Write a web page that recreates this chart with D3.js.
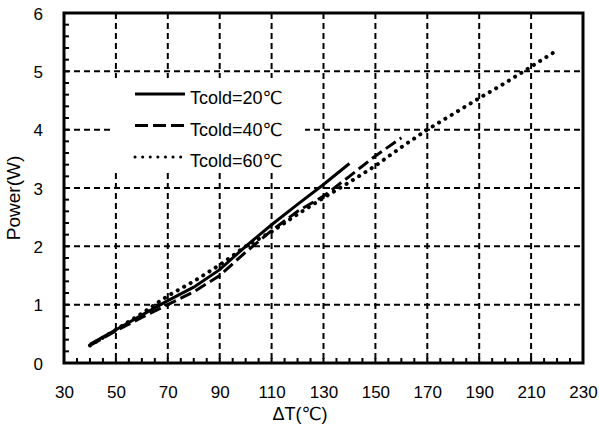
<!DOCTYPE html>
<html>
<head>
<meta charset="utf-8">
<script src="https://cdn.jsdelivr.net/npm/d3@7"></script>
<style>
  body { margin: 0; background: #fff; }
  text { font-family: "Liberation Sans", Arial, sans-serif; fill: #000; }
  .deg { font-family: "DejaVu Sans", sans-serif; }
</style>
</head>
<body>
<div id="chart"></div>
<script>
// tick labels
const xTicks = [30, 50, 70, 90, 110, 130, 150, 170, 190, 210, 230];
const yTicks = [0, 1, 2, 3, 4, 5, 6];

// series
const dT20 = [40, 50, 60, 70, 80, 90, 100, 110, 120, 130, 140];
const power20 = [0.32, 0.57, 0.82, 1.07, 1.3, 1.6, 2.0, 2.37, 2.72, 3.06, 3.42];

const dT40 = [40, 50, 60, 70, 80, 90, 100, 110, 120, 130, 140, 150, 160];
const power40 = [0.3, 0.55, 0.78, 1.0, 1.22, 1.5, 1.9, 2.27, 2.6, 2.86, 3.2, 3.55, 3.86];

const dT60 = [40, 50, 60, 70, 80, 90, 100, 110, 120, 130, 140, 150, 160, 170, 180, 190, 200, 210, 220];
const power60 = [0.3, 0.57, 0.85, 1.15, 1.4, 1.68, 2.0, 2.25, 2.55, 2.83, 3.1, 3.38, 3.7, 4.0, 4.27, 4.54, 4.8, 5.08, 5.36];

const seriesNames = ['Tcold=20', 'Tcold=40', 'Tcold=60'];

const W = 599, H = 425;
const margin = {top: 13, right: 16, bottom: 62, left: 64};
const width = W - margin.left - margin.right;
const height = H - margin.top - margin.bottom;

const svg = d3.select('#chart').append('svg')
    .attr('width', W)
    .attr('height', H);

const chart = svg.append('g')
    .attr('transform', `translate(${margin.left},${margin.top})`);

const xScale = d3.scaleLinear().domain([30, 230]).range([0, width]);
const yScale = d3.scaleLinear().domain([0, 6]).range([height, 0]);

// dashed grid
chart.append('g').selectAll('line')
    .data(xTicks.slice(1, -1))
    .join('line')
    .attr('x1', d => xScale(d)).attr('x2', d => xScale(d))
    .attr('y1', 0).attr('y2', height)
    .attr('stroke', '#000').attr('stroke-width', 2)
    .attr('stroke-dasharray', '6,4');

chart.append('g').selectAll('line')
    .data(yTicks.slice(1, -1))
    .join('line')
    .attr('x1', 0).attr('x2', width)
    .attr('y1', d => yScale(d)).attr('y2', d => yScale(d))
    .attr('stroke', '#000').attr('stroke-width', 2)
    .attr('stroke-dasharray', '6,4');

// minor ticks pointing inward
const xMinor = d3.range(35, 230, 5);
chart.append('g').selectAll('line')
    .data(xMinor)
    .join('line')
    .attr('x1', d => xScale(d)).attr('x2', d => xScale(d))
    .attr('y1', height).attr('y2', height - 5)
    .attr('stroke', '#000').attr('stroke-width', 2);

const yMinor = d3.range(0.2, 6, 0.2);
chart.append('g').selectAll('line')
    .data(yMinor)
    .join('line')
    .attr('x1', 0).attr('x2', 5)
    .attr('y1', d => yScale(d)).attr('y2', d => yScale(d))
    .attr('stroke', '#000').attr('stroke-width', 2);

// series lines
const series = [
    {name: seriesNames[0], x: dT20, y: power20, dash: null, width: 3},
    {name: seriesNames[1], x: dT40, y: power40, dash: '12,5', width: 3},
    {name: seriesNames[2], x: dT60, y: power60, dash: '0.1,7.3', width: 4}
];

const line = d3.line()
    .x(d => xScale(d[0]))
    .y(d => yScale(d[1]));

series.forEach(s => {
    chart.append('path')
        .datum(s.x.map((v, i) => [v, s.y[i]]))
        .attr('d', line)
        .attr('fill', 'none')
        .attr('stroke', '#000')
        .attr('stroke-width', s.width)
        .attr('stroke-linecap', s.dash && s.dash.startsWith('0') ? 'round' : 'butt')
        .attr('stroke-dasharray', s.dash);
});

// legend box (white, hides the grid behind)
const legend = svg.append('g');
legend.append('rect')
    .attr('x', 113).attr('y', 78)
    .attr('width', 192).attr('height', 94)
    .attr('fill', '#fff');

const legendRows = [94, 125.5, 157];
series.forEach((s, i) => {
    legend.append('line')
        .attr('x1', 135).attr('x2', 185)
        .attr('y1', legendRows[i]).attr('y2', legendRows[i])
        .attr('stroke', '#000')
        .attr('stroke-width', 3)
        .attr('stroke-linecap', i === 2 ? 'round' : 'butt')
        .attr('stroke-dasharray', i === 0 ? null : (i === 1 ? '13,5' : '0.1,7.5'));
    const t = legend.append('text')
        .attr('x', 190)
        .attr('y', legendRows[i] + 10)
        .style('font-size', '18px')
        .text(s.name);
    t.append('tspan').attr('class', 'deg').text('℃');
});

// frame
chart.append('rect')
    .attr('width', width).attr('height', height)
    .attr('fill', 'none')
    .attr('stroke', '#000')
    .attr('stroke-width', 3);

// tick labels
const xAxis = d3.axisBottom(xScale).tickValues(xTicks).tickSize(0).tickPadding(0);
const yAxis = d3.axisLeft(yScale).tickValues(yTicks).tickSize(0).tickPadding(0)
    .tickFormat(d3.format('d'));

const xAxisG = chart.append('g')
    .attr('transform', `translate(0,${height})`)
    .call(xAxis);
xAxisG.select('.domain').remove();
xAxisG.selectAll('text')
    .attr('y', 35).attr('dy', null)
    .style('font-size', '17px')
    .style('font-family', '"Liberation Sans", Arial, sans-serif')
    .attr('fill', '#000');

const yAxisG = chart.append('g').call(yAxis);
yAxisG.select('.domain').remove();
yAxisG.selectAll('text')
    .attr('x', -21)
    .attr('dy', '0.36em')
    .style('font-size', '17px')
    .style('font-family', '"Liberation Sans", Arial, sans-serif')
    .attr('fill', '#000');

// axis titles
const xTitle = svg.append('text')
    .attr('x', 300)
    .attr('y', 420)
    .attr('text-anchor', 'middle')
    .style('font-size', '18px')
    .text('ΔT(');
xTitle.append('tspan').attr('class', 'deg').text('℃');
xTitle.append('tspan').text(')');

svg.append('text')
    .attr('transform', 'translate(20,198) rotate(-90)')
    .attr('text-anchor', 'middle')
    .style('font-size', '19px')
    .text('Power(W)');
</script>
</body>
</html>
